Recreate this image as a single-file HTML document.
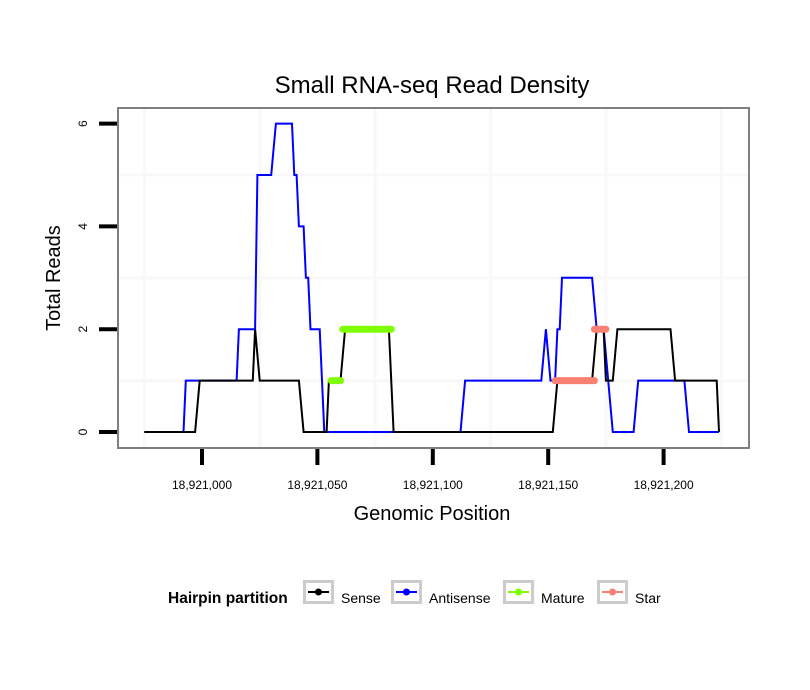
<!DOCTYPE html>
<html><head><meta charset="utf-8"><style>
body{margin:0;background:#fff;}
svg{display:block;font-family:"Liberation Sans",Arial,sans-serif;}
</style></head><body>
<svg id="chart" width="810" height="690">
<rect x="0" y="0" width="810" height="690" fill="#fff"/>
<text x="432" y="93" text-anchor="middle" font-size="24" fill="#000">Small RNA-seq Read Density</text>
<rect x="118" y="108" width="631" height="340" fill="#fff"/>
<g id="grid"></g>
<g id="series"></g>
<rect x="118" y="108" width="631" height="340" fill="none" stroke="#7f7f7f" stroke-width="2"/>
<g id="axes"></g>
<text x="432" y="520" text-anchor="middle" font-size="20">Genomic Position</text>
<text transform="translate(60,278) rotate(-90)" text-anchor="middle" font-size="20">Total Reads</text>
<g>
<text x="168" y="603" font-size="15.5" font-weight="bold">Hairpin partition</text>
<g id="legend"></g>
</g>
</svg>
<script>
const xTicks = [18921000, 18921050, 18921100, 18921150, 18921200];
const xTickLabels = ["18,921,000", "18,921,050", "18,921,100", "18,921,150", "18,921,200"];
const yTicks = [0, 2, 4, 6];
const yTickLabels = ["0", "2", "4", "6"];
const xMinor = [18920975, 18921025, 18921075, 18921125, 18921175, 18921225];
const yMinor = [1, 3, 5];
const sensePos = [18920975,18920997,18920999,18921022,18921023,18921025,18921042,18921044,18921054,18921055,18921060,18921062,18921081,18921083,18921152,18921154,18921169,18921171,18921174,18921175,18921178,18921180,18921203,18921205,18921223,18921224];
const senseVal = [0,0,1,1,2,1,1,0,0,1,1,2,2,0,0,1,1,2,2,1,1,2,2,1,1,0];
const antiPos = [18920975,18920992,18920993,18921015,18921016,18921023,18921024,18921030,18921032,18921039,18921040,18921041,18921042,18921044,18921045,18921046,18921047,18921051,18921053,18921112,18921114,18921147,18921149,18921151,18921153,18921154,18921155,18921156,18921169,18921171,18921174,18921176,18921178,18921187,18921189,18921209,18921211,18921224];
const antiVal = [0,0,1,1,2,2,5,5,6,6,5,5,4,4,3,3,2,2,0,0,1,1,2,1,1,2,2,3,3,2,2,1,0,0,1,1,0,0];
const matureStart = [18921056, 18921061];
const matureEnd = [18921060, 18921082];
const matureVal = [1, 2];
const starStart = [18921153, 18921170];
const starEnd = [18921170, 18921175];
const starVal = [1, 2];
const legendLabels = ["Sense","Antisense","Mature","Star"];
const legendColors = ["#000000","#0000ff","#7fff00","#fa8072"];

const NS = "http://www.w3.org/2000/svg";
const X = v => 202 + (v - 18921000) * 2.308;
const Y = v => 432 - v * 51.4;
function mk(tag, attrs, parent){const e=document.createElementNS(NS,tag);for(const k in attrs)e.setAttribute(k,attrs[k]);parent.appendChild(e);return e;}
const grid=document.getElementById('grid'), series=document.getElementById('series'), axes=document.getElementById('axes'), legend=document.getElementById('legend');

xMinor.forEach(v=>{const l=mk('line',{x1:X(v),x2:X(v),y1:109,y2:447,stroke:'#f8f8f8','stroke-width':3},grid);

});
yMinor.forEach(v=>{const l=mk('line',{x1:119,x2:748,y1:Y(v),y2:Y(v),stroke:'#f8f8f8','stroke-width':3},grid);

});

function line(pos,val,color,name){
  const pts=pos.map((p,i)=>X(p).toFixed(1)+','+Y(val[i]).toFixed(1)).join(' ');
  const e=mk('polyline',{points:pts,fill:'none',stroke:color,'stroke-width':2,'stroke-linejoin':'miter'},series);
  
  
}
line(antiPos,antiVal,'#0000ff','antisense-line');
line(sensePos,senseVal,'#000000','sense-line');
function segs(s,e,v,color,name){
  s.forEach((p,i)=>{const l=mk('line',{x1:X(p),x2:X(e[i]),y1:Y(v[i]),y2:Y(v[i]),stroke:color,'stroke-width':7,'stroke-linecap':'round'},series);
  
  });
}
segs(matureStart,matureEnd,matureVal,'#7fff00','mature-segment');
segs(starStart,starEnd,starVal,'#fa8072','star-segment');

xTicks.forEach((v,i)=>{
  const t=mk('line',{x1:X(v),x2:X(v),y1:449,y2:465,stroke:'#000','stroke-width':4},axes);
  
  
  const tx=mk('text',{x:X(v),y:489,'text-anchor':'middle','font-size':12},axes);
  tx.textContent=xTickLabels[i];
  
  
});
yTicks.forEach((v,i)=>{
  const t=mk('line',{x1:99,x2:117,y1:Y(v),y2:Y(v),stroke:'#000','stroke-width':4},axes);
  
  
  const tx=mk('text',{transform:`translate(87,${Y(v)}) rotate(-90)`,'text-anchor':'middle','font-size':12},axes);
  tx.textContent=yTickLabels[i];
  
  
});
const boxX=[303,391,503,597], txtX=[341,429,541,635];
legendLabels.forEach((lab,i)=>{
  const b=mk('rect',{x:boxX[i]+1.5,y:581.5,width:28,height:21,fill:'#fff',stroke:'#cccccc','stroke-width':3},legend);
  
  
  mk('line',{x1:boxX[i]+5,x2:boxX[i]+26,y1:592,y2:592,stroke:legendColors[i],'stroke-width':2},legend);
  mk('circle',{cx:boxX[i]+15.5,cy:592,r:3.5,fill:legendColors[i]},legend);
  const t=mk('text',{x:txtX[i],y:603,'font-size':14},legend);
  t.textContent=lab;
  
  
});
</script>
</body></html>
